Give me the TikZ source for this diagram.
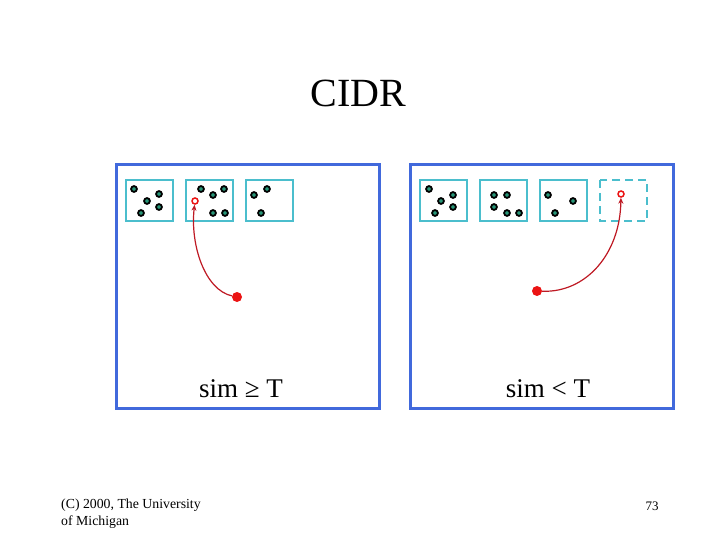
\documentclass[tikz,border=0pt]{standalone}
\usepackage{fontspec}
\setmainfont{Liberation Serif}
\usetikzlibrary{arrows.meta}
\definecolor{bigblue}{RGB}{65,105,220}
\definecolor{boxcyan}{RGB}{75,190,205}
\definecolor{dotteal}{RGB}{40,150,120}
\definecolor{redline}{RGB}{190,25,35}
\definecolor{reddot}{RGB}{235,20,20}
\tikzset{
  bigbox/.style={draw=bigblue, line width=3pt},
  cluster/.style={draw=boxcyan, line width=2pt},
  newcluster/.style={draw=boxcyan, line width=2pt, dash pattern=on 8pt off 5pt},
  doc/.style={circle, draw=black, fill=dotteal, line width=1.8pt, inner sep=0pt, minimum size=5.8pt},
  newdoc/.style={circle, fill=reddot, inner sep=0pt, minimum size=10pt},
  target/.style={circle, draw=reddot, fill=white, line width=1.5pt, inner sep=0pt, minimum size=6pt},
  arr/.style={draw=redline, line width=1.2pt, -{Stealth[length=6pt,width=5pt]}},
  lbl/.style={inner sep=0pt, anchor=base, font=\fontsize{27}{30}\selectfont},
}
\begin{document}
\begin{tikzpicture}[x=1pt,y=-1pt]
\useasboundingbox (0,0) rectangle (720,540);
% title
\node[inner sep=0pt, anchor=base, font=\fontsize{40}{44}\selectfont] (title) at (358.5,107) {CIDR};
% big panels
\node[bigbox, draw, inner sep=0pt, minimum width=263pt, minimum height=243pt, anchor=north west] (left) at (114.5,163.5) {};
\node[bigbox, draw, inner sep=0pt, minimum width=263pt, minimum height=243pt, anchor=north west] (right) at (408.5,163.5) {};
% left clusters
\draw[cluster] (126,180) rectangle (173,221);
\draw[cluster] (186,180) rectangle (233,221);
\draw[cluster] (246,180) rectangle (293,221);
% right clusters
\draw[cluster] (420,180) rectangle (467,221);
\draw[cluster] (480,180) rectangle (527,221);
\draw[cluster] (540,180) rectangle (587,221);
\draw[newcluster] (600,180) rectangle (647,221);
% left docs
\node[doc] (la1) at (134,189) {};
\node[doc] (la2) at (159,194) {};
\node[doc] (la3) at (147,201) {};
\node[doc] (la4) at (159,207) {};
\node[doc] (la5) at (141,213) {};
\node[doc] (lb1) at (201,189) {};
\node[doc] (lb2) at (224,189) {};
\node[doc] (lb3) at (213,195) {};
\node[doc] (lb4) at (213,213) {};
\node[doc] (lb5) at (225,213) {};
\node[doc] (lc1) at (267,189) {};
\node[doc] (lc2) at (254,195) {};
\node[doc] (lc3) at (261,213) {};
% right docs
\node[doc] (ra1) at (429,189) {};
\node[doc] (ra2) at (453,195) {};
\node[doc] (ra3) at (441,201) {};
\node[doc] (ra4) at (453,207) {};
\node[doc] (ra5) at (435,213) {};
\node[doc] (rb1) at (494,195) {};
\node[doc] (rb2) at (507,195) {};
\node[doc] (rb3) at (494,207) {};
\node[doc] (rb4) at (507,213) {};
\node[doc] (rb5) at (519,213) {};
\node[doc] (rc1) at (548,195) {};
\node[doc] (rc2) at (573,201) {};
\node[doc] (rc3) at (555,213) {};
% new documents and their targets
\node[target] (lt) at (195,201) {};
\node[newdoc] (ln) at (237,297) {};
\node[target] (rt) at (621,194) {};
\node[newdoc] (rn) at (537,291) {};
\draw[arr] (ln) .. controls (205,290) and (190,245) .. (lt);
\draw[arr] (rn) .. controls (585,293) and (620,255) .. (rt);
% labels
\node[lbl] (simge) at (241,397) {sim ≥ T};
\node[lbl] (simlt) at (548,397) {sim < T};
% footer
\node[inner sep=0pt, anchor=base west, align=left, font=\fontsize{13.8}{17}\selectfont] (copy) at (61,525) {(C) 2000, The University\\of Michigan};
\node[inner sep=0pt, anchor=base, font=\fontsize{13}{15}\selectfont] (page) at (652,510) {73};
\end{tikzpicture}
\end{document}
